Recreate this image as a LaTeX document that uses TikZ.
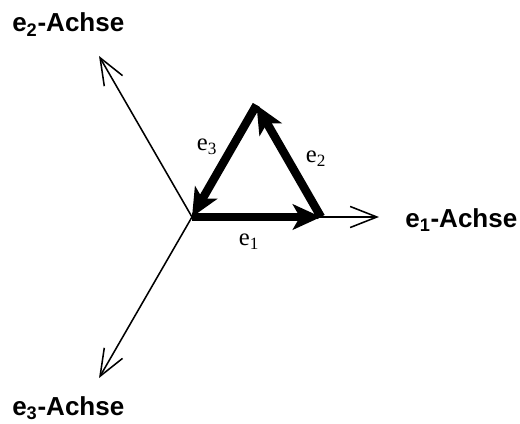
\documentclass[tikz,border=0pt]{standalone}
\usepackage{fontspec}
\setmainfont{Liberation Serif}
\setsansfont{Liberation Sans}
\usetikzlibrary{arrows.meta}
\tikzset{
  achse/.style={line width=1.1pt, -{Straight Barb[length=19pt,width=15pt,line width=1.1pt]}},
  vektor/.style={line width=6pt, -{Stealth[length=20pt,width=18pt,inset=5pt]}},
  achslabel/.style={font=\sffamily\bfseries\fontsize{18.5}{22}\selectfont, anchor=base west, inner sep=0pt},
  veklabel/.style={font=\fontsize{17.5}{20}\selectfont, inner sep=0pt}
}
\begin{document}
\begin{tikzpicture}[scale=0.025]
	\useasboundingbox (-192,-206) rectangle (328,217);
	% Achsen
	\coordinate (O) at (0,0);
	\coordinate (E1) at (0:187);
	\coordinate (E2) at (120:186);
	\coordinate (E3) at (240:186);
	\draw[achse] (O) -- (E1);
	\draw[achse] (O) -- (E2);
	\draw[achse] (O) -- (E3);
	\node[achslabel] (l1) at (213,-10) {e\textsubscript{1}-Achse};
	\node[achslabel] (l2) at (-180,185) {e\textsubscript{2}-Achse};
	\node[achslabel] (l3) at (-180,-198) {e\textsubscript{3}-Achse};
	% Dreieck
	\coordinate (R) at (129,0);
	\coordinate (T) at (64.5,112);
	\draw[vektor] (O) -- (R);
	\draw[vektor] (R) -- (T);
	\draw[vektor] (T) -- (O);
	\node[veklabel] (v1) at (57,-25) {e\textsubscript{1}};
	\node[veklabel] (v2) at (124,58) {e\textsubscript{2}};
	\node[veklabel] (v3) at (15,70) {e\textsubscript{3}};
\end{tikzpicture}
\end{document}
